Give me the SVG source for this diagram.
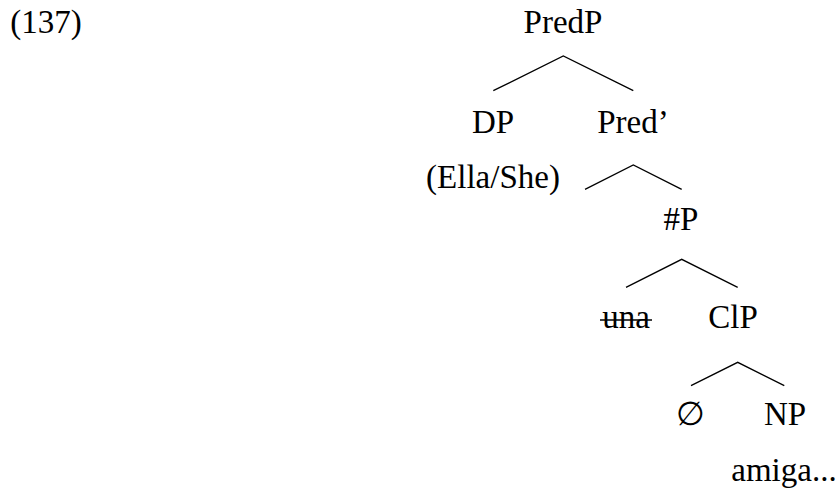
<svg xmlns="http://www.w3.org/2000/svg" width="838" height="493" viewBox="0 0 838 493">
<style>
text{font-family:'Liberation Serif','Times New Roman','DejaVu Serif',serif;font-size:33px;fill:#000;text-anchor:middle}
.e{stroke:#000;stroke-width:1.3;fill:none}
</style>
<rect width="838" height="493" fill="#fff"/>
<text x="46" y="33">(137)</text>
<g id="connectors">
<path class="e" d="M493.3,90.7 L563.3,56 L633.3,90.7"/>
<path class="e" d="M585,189.3 L633.3,165 L681.7,189.3"/>
<path class="e" d="M626,287.3 L681.7,259.3 L737.7,287.3"/>
<path class="e" d="M691,385.7 L737.7,362.3 L784.3,385.7"/>
</g>
<g id="n-predp"><text x="563" y="33">PredP</text></g>
<g id="n-dp"><text x="493" y="132.5">DP</text></g>
<g id="n-ella"><text x="493" y="188">(Ella/She)</text></g>
<g id="n-predbar"><text x="633" y="132.5">Pred’</text></g>
<g id="n-numP"><text x="681" y="230">#P</text></g>
<g id="n-una"><text x="626" y="328">una</text><line class="e" x1="600" y1="320" x2="652" y2="320"/></g>
<g id="n-clp"><text x="733" y="328">ClP</text></g>
<g id="n-empty"><text x="690" y="425">∅</text></g>
<g id="n-np"><text x="785" y="425">NP</text></g>
<g id="n-amiga"><text x="784" y="481">amiga...</text></g>
</svg>
